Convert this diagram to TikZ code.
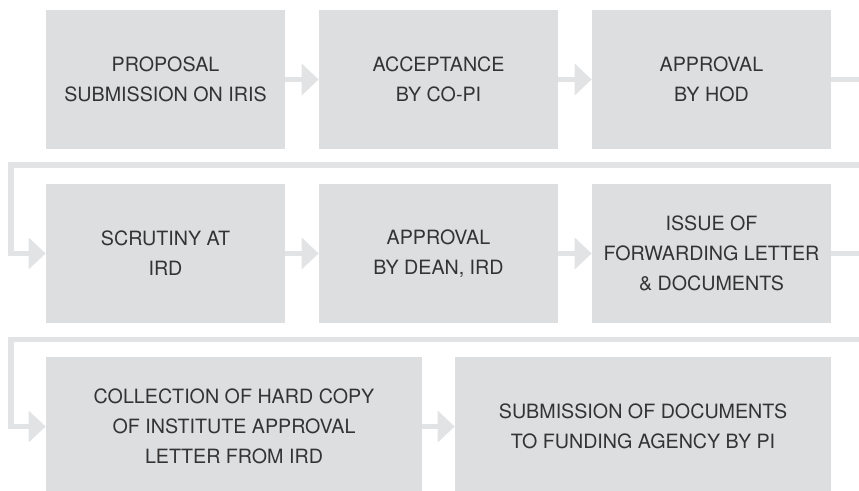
\documentclass[tikz,border=0pt]{standalone}
\usepackage{xcolor}
\usepackage{fontspec}
\setmainfont{TeX Gyre Heros}
\usetikzlibrary{arrows.meta}
\definecolor{IRDBox}{HTML}{DDDEE0}
\definecolor{IRDLink}{HTML}{E2E3E4}
\definecolor{IRDText}{HTML}{333333}

\begin{document}
\begin{tikzpicture}[x=1cm,y=1cm,
  stage/.style={fill=IRDBox,text=IRDText,inner sep=0pt,align=center,
    minimum width=4.78cm,minimum height=2.78cm,
    font=\fontsize{11.2}{17}\selectfont},
  wide/.style={stage,minimum width=7.52cm},
  link/.style={IRDLink,line width=0.11cm,
    -{Triangle[length=0.34cm,width=0.62cm]}}]
\path[use as bounding box] (0,0) rectangle (17.18,9.82);
\clip (0,0) rectangle (17.18,9.82);
% first row
\node[stage] (sub) at (3.31,8.23) {PROPOSAL\\SUBMISSION ON IRIS};
\node[stage] (acc) at (8.77,8.23) {ACCEPTANCE\\BY CO-PI};
\node[stage] (hod) at (14.23,8.23) {APPROVAL\\BY HOD};
% second row
\node[stage] (scr) at (3.31,4.75) {SCRUTINY AT\\IRD};
\node[stage] (dean) at (8.77,4.75) {APPROVAL\\BY DEAN, IRD};
\node[stage] (fwd) at (14.23,4.75) {ISSUE OF\\FORWARDING LETTER\\\& DOCUMENTS};
% last row
\node[wide] (col) at (4.68,1.29) {COLLECTION OF HARD COPY\\OF INSTITUTE APPROVAL\\LETTER FROM IRD};
\node[wide] (fund) at (12.86,1.29) {SUBMISSION OF DOCUMENTS\\TO FUNDING AGENCY BY PI};
% turns at the row ends
\coordinate (r1) at (17.60,6.52);
\coordinate (l1) at (0.22,6.52);
\coordinate (r2) at (17.60,3.03);
\coordinate (l2) at (0.22,3.03);
\draw[link] (sub) -- (acc);
\draw[link] (acc) -- (hod);
\draw[link] (hod.east) -| (r1) -- (l1) |- (scr.west);
\draw[link] (scr) -- (dean);
\draw[link] (dean) -- (fwd);
\draw[link] (fwd.east) -| (r2) -- (l2) |- (col.west);
\draw[link] (col) -- (fund);
\end{tikzpicture}
\end{document}
